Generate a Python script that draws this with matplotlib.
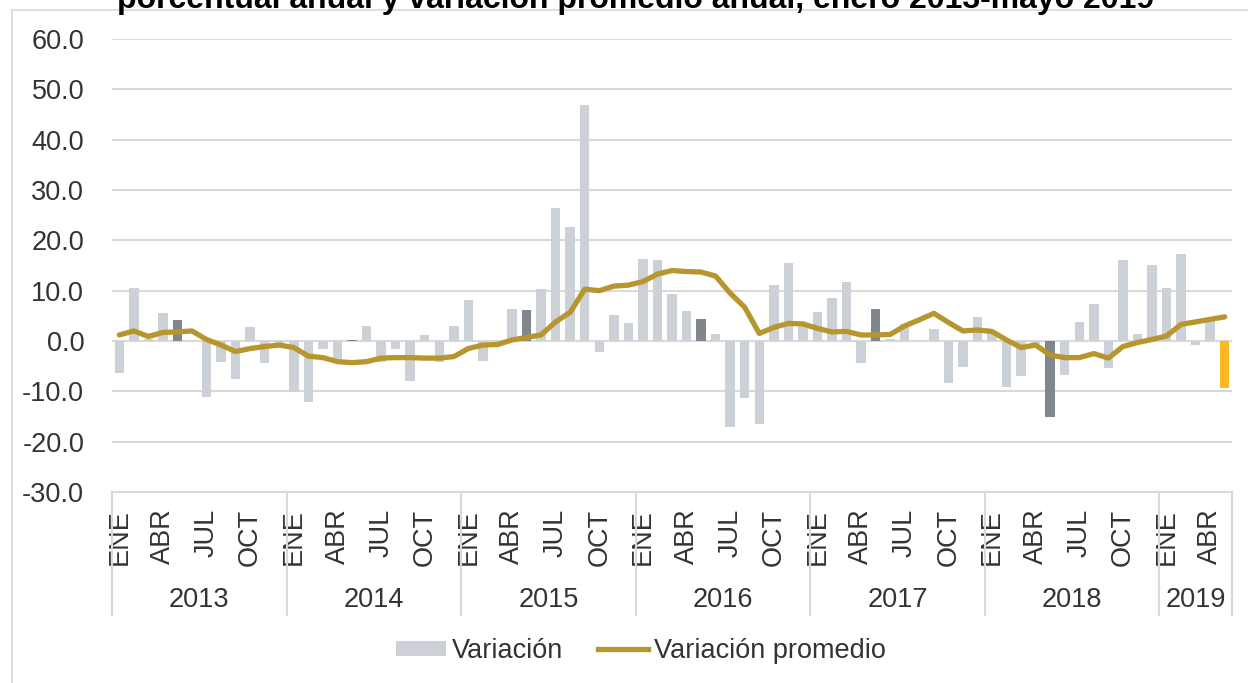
import matplotlib
matplotlib.use("Agg")
import matplotlib.pyplot as plt
import matplotlib.transforms as mtransforms
from matplotlib.lines import Line2D
from matplotlib.patches import Patch
import numpy as np

plt.rcParams['font.family'] = ['Liberation Sans', 'DejaVu Sans']

years = ["2013", "2014", "2015", "2016", "2017", "2018", "2019"]
months_per_year = [12, 12, 12, 12, 12, 12, 5]
month_labels = ["ENE", "", "", "ABR", "", "", "JUL", "", "", "OCT", "", ""]

variacion = [
    # 2013
    -6.3, 10.5, 0.3, 5.5, 4.2, 0.0, -11.2, -4.2, -7.5, 2.7, -4.3, -0.3,
    # 2014
    -10.1, -12.1, -1.5, -3.8, 0.2, 3.0, -4.2, -1.5, -7.9, 1.1, -4.2, 3.0,
    # 2015
    8.2, -3.9, 0.2, 6.3, 6.2, 10.3, 26.4, 22.7, 46.9, -2.1, 5.2, 3.6,
    # 2016
    16.3, 16.1, 9.3, 6.0, 4.4, 1.4, -17.0, -11.4, -16.4, 11.1, 15.4, 3.0,
    # 2017
    5.8, 8.5, 11.7, -4.4, 6.4, 0.4, 3.4, 0.0, 2.3, -8.4, -5.1, 4.8,
    # 2018
    1.8, -9.2, -7.0, -0.5, -15.0, -6.7, 3.8, 7.3, -5.4, 16.0, 1.4, 15.1,
    # 2019
    10.5, 17.2, -0.7, 4.6, -9.3,
]

promedio = [
    # 2013
    1.2, 2.0, 0.9, 1.7, 1.8, 2.0, 0.3, -0.8, -2.1, -1.5, -1.1, -0.8,
    # 2014
    -1.3, -3.0, -3.3, -4.1, -4.3, -4.1, -3.4, -3.3, -3.3, -3.4, -3.4, -3.1,
    # 2015
    -1.5, -0.8, -0.7, 0.2, 0.7, 1.2, 3.8, 5.7, 10.3, 10.0, 10.9, 11.1,
    # 2016
    11.8, 13.3, 14.0, 13.8, 13.7, 12.9, 9.5, 6.7, 1.5, 2.7, 3.5, 3.4,
    # 2017
    2.5, 1.8, 1.9, 1.2, 1.2, 1.3, 3.0, 4.2, 5.5, 3.7, 2.0, 2.2,
    # 2018
    1.9, 0.2, -1.3, -0.8, -2.8, -3.3, -3.3, -2.5, -3.4, -1.1, -0.3, 0.3,
    # 2019
    1.0, 3.3, 3.8, 4.3, 4.8,
]

title_text = "porcentual anual y variación promedio anual, enero 2013-mayo 2019"
ytick_values = [-30, -20, -10, 0, 10, 20, 30, 40, 50, 60]

# ---- styling ----
C_BAR = "#CBD1D7"
C_DARK = "#7F878C"
C_LAST = "#FBBA24"
C_LINE = "#B8962E"
C_GRID = "#D9D9D9"
C_TEXT = "#333333"
FS = 19.5
LW = 3.8

n = len(variacion)
x = np.arange(n)
month_idx = []
for m in months_per_year:
    month_idx.extend(range(m))
colors = []
for i, mi in enumerate(month_idx):
    if i == n - 1:
        colors.append(C_LAST)
    elif mi == 4:
        colors.append(C_DARK)
    else:
        colors.append(C_BAR)

W, H = 1248, 683
fig = plt.figure(figsize=(W / 100, H / 100), dpi=100)
fig.patch.set_facecolor("white")

left_px, right_px, top_px, bottom_px = 112, 1232, 39, 492
ax = fig.add_axes([left_px / W, 1 - bottom_px / H, (right_px - left_px) / W, (bottom_px - top_px) / H])

ax.set_axisbelow(True)
ax.bar(x, variacion, width=0.65, color=colors, zorder=2)
ax.plot(x, promedio, color=C_LINE, lw=LW, zorder=3, solid_capstyle="round", solid_joinstyle="round")

ax.set_xlim(-0.5, n - 0.5)
ax.set_ylim(-30, 60)
ax.set_yticks(ytick_values)
ax.set_yticklabels([f"{v:.1f}" for v in ytick_values], fontsize=FS, color=C_TEXT)
ax.yaxis.grid(True, color=C_GRID, lw=1.5)
ax.tick_params(axis="y", length=0, pad=20)

# month tick labels
ticks, labels = [], []
for i, mi in enumerate(month_idx):
    lab = month_labels[mi]
    if lab:
        ticks.append(i)
        labels.append(lab)
ax.set_xticks(ticks)
ax.set_xticklabels(labels, rotation=90, fontsize=FS, color=C_TEXT, va="top", ha="center")
ax.tick_params(axis="x", length=0, pad=12)

for s in ["left", "right", "top"]:
    ax.spines[s].set_visible(False)
ax.spines["bottom"].set_color(C_GRID)
ax.spines["bottom"].set_linewidth(1.5)

# year labels and separators
trans = mtransforms.blended_transform_factory(ax.transData, ax.transAxes)
sep_bottom = -(615 - bottom_px) / (bottom_px - top_px)
year_y = -(600 - bottom_px) / (bottom_px - top_px)
start = 0
bounds = [-0.5]
for yr, m in zip(years, months_per_year):
    ax.text(start + (m - 1) / 2, year_y, yr, transform=trans, ha="center", va="center",
            fontsize=FS, color=C_TEXT)
    start += m
    bounds.append(start - 0.5)
for b in bounds:
    ax.add_line(Line2D([b, b], [0, sep_bottom], transform=trans, color=C_GRID, lw=1.5, clip_on=False))

# title (partially cut at top, as in the reference)
fig.text(636 / W, 1 - 8 / H, title_text, ha="center", va="baseline", fontsize=23,
         fontweight="bold", color="black")

# chart border (left and top)
fig.add_artist(Line2D([12 / W, 12 / W], [0, 1 - 10 / H], transform=fig.transFigure, color=C_GRID, lw=1.2))
fig.add_artist(Line2D([12 / W, 1], [1 - 10 / H, 1 - 10 / H], transform=fig.transFigure, color=C_GRID, lw=1.2))

# legend
handles = [Patch(facecolor=C_BAR, edgecolor="none", label="Variación"),
           Line2D([0], [0], color=C_LINE, lw=LW, label="Variación promedio")]
leg = fig.legend(handles=handles, loc="center", bbox_to_anchor=(641 / W, 1 - 651 / H), ncol=2,
                 frameon=False, fontsize=FS, handlelength=1.85, handleheight=0.5,
                 handletextpad=0.2, columnspacing=1.3, labelcolor=C_TEXT)

fig.savefig("out.png", dpi=100)
